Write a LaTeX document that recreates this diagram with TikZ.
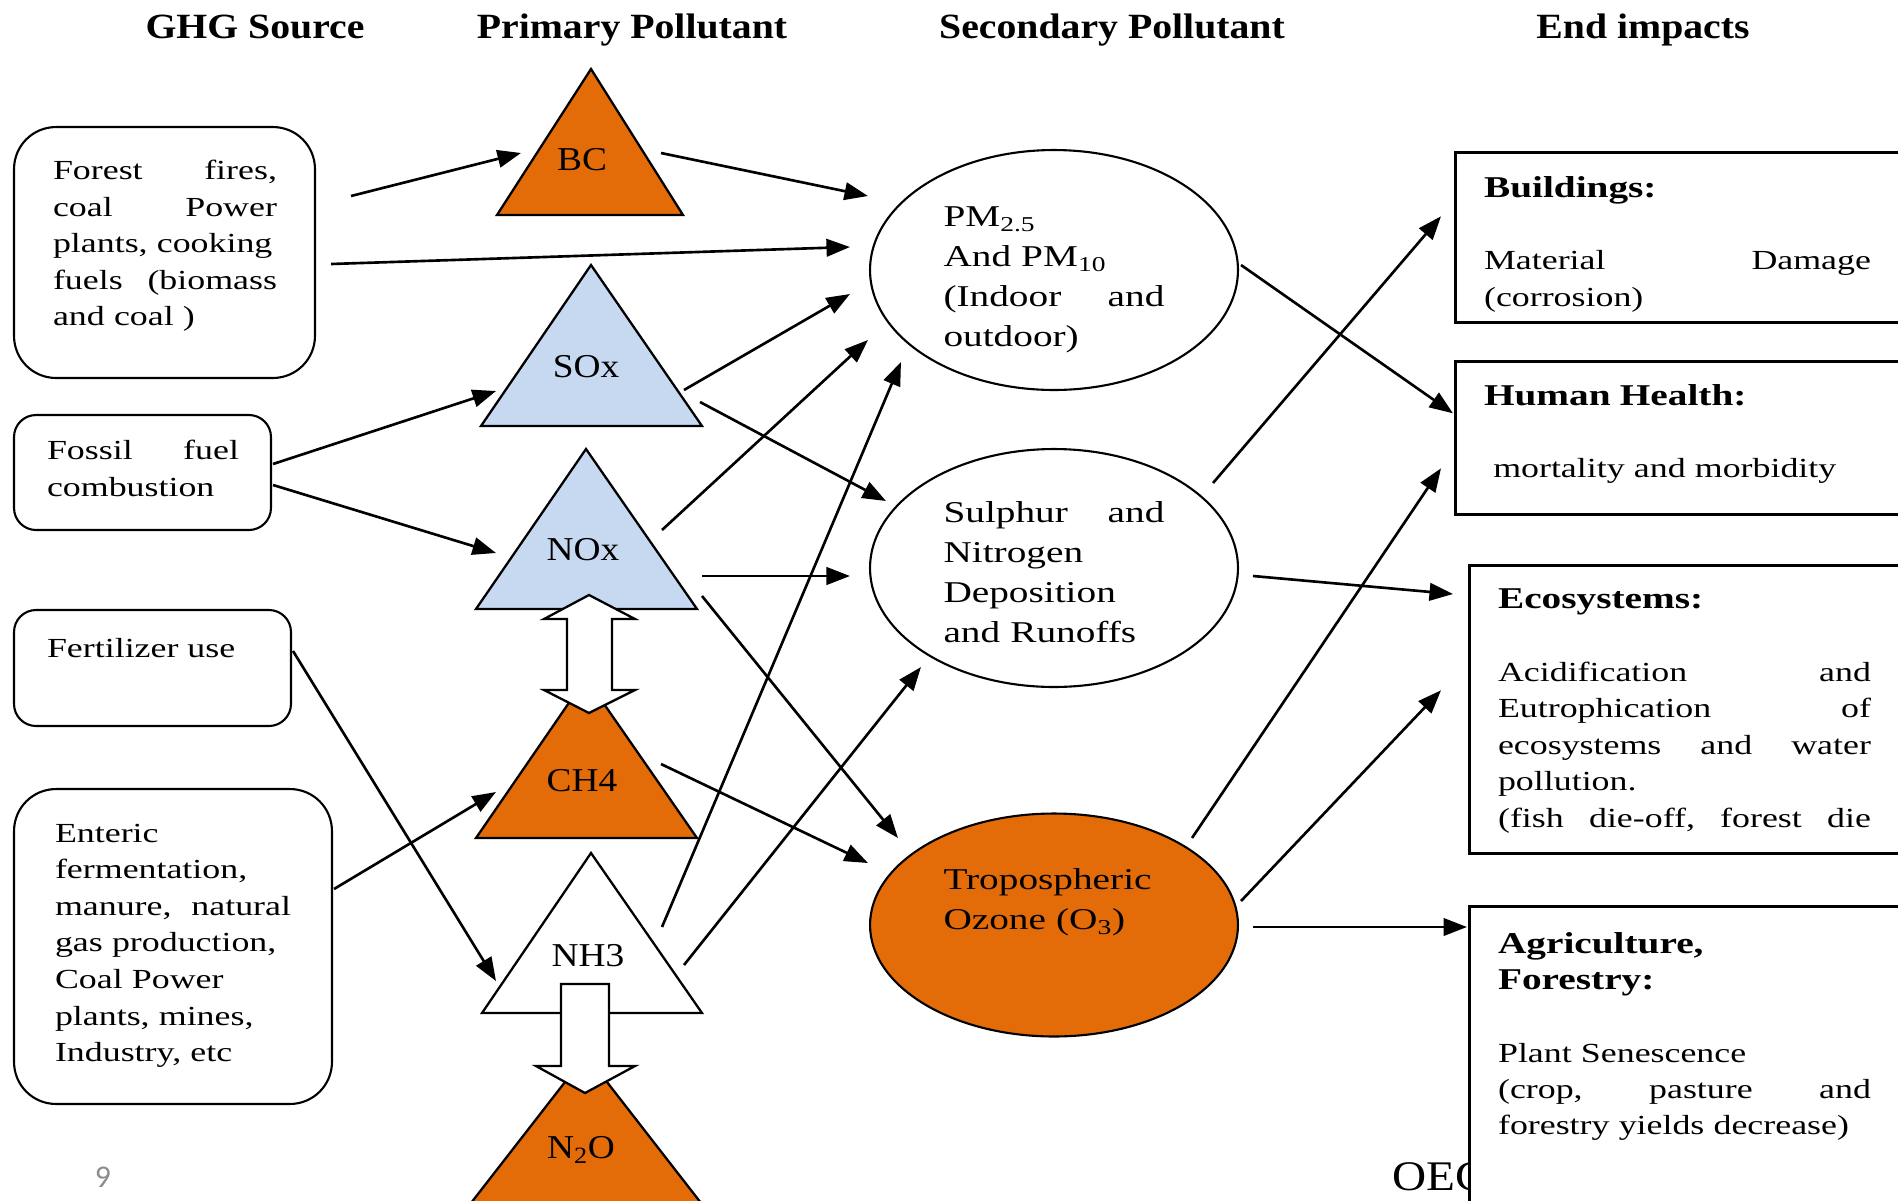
\documentclass[tikz,border=0pt]{standalone}
\usepackage{fontspec}
\setmainfont{Liberation Serif}[FakeStretch=1.3]
\newfontfamily\hdfont{Liberation Serif}[FakeStretch=1.12]
\newfontfamily\numfont{Carlito}
\usepackage{xcolor}
\usetikzlibrary{arrows.meta, positioning, shapes.geometric}

\definecolor{triorange}{HTML}{E36C09}
\definecolor{triblue}{HTML}{C6D9F1}
\definecolor{numgray}{HTML}{8C8C8C}

\newcommand{\imphead}[1]{{\fontsize{17.2}{20.7}\selectfont\bfseries #1}}

\begin{document}
\begin{tikzpicture}[x=0.02cm,y=-0.02cm,line width=1.2pt,>={Triangle[length=0.47cm,width=0.35cm]}]
  \tikzstyle{head}=[anchor=base,inner sep=0,font={\hdfont\fontsize{20.2}{24}\selectfont\bfseries}]
  \tikzstyle{src}=[draw,rounded corners=0.84cm,inner sep=0]
  \tikzstyle{srctxt}=[anchor=north west,inner sep=0,align=left,font={\fontsize{15.7}{20.8}\selectfont}]
  \tikzstyle{tri}=[draw,line width=1.3pt,line join=miter]
  \tikzstyle{trilab}=[inner sep=0,font={\hdfont\fontsize{19}{22}\selectfont}]
  \tikzstyle{blk}=[draw,fill=white,line width=1.3pt,line join=miter]
  \tikzstyle{sec}=[draw,ellipse,minimum width=7.36cm,inner sep=0,text width=4.42cm,align=left,font={\fontsize{17.2}{22.7}\selectfont}]
  \tikzstyle{imp}=[draw,line width=1.5pt,fill=white,inner sep=0,anchor=north west]
  \tikzstyle{imptxt}=[anchor=north west,inner sep=0,align=left,font={\fontsize{15.7}{20.7}\selectfont}]
  \tikzstyle{link}=[->,line width=1.5pt]

  \useasboundingbox (0,0) rectangle (1898,1201);

  \node[head] (h_src) at (255,38)  {GHG Source};
  \node[head] (h_pri) at (632,38)  {Primary Pollutant};
  \node[head] (h_sec) at (1112,38) {Secondary Pollutant};
  \node[head] (h_end) at (1643,38) {End impacts};

  \node[src,minimum width=6.02cm,minimum height=5.02cm]                        (forest)  at (164.5,252.5) {};
  \node[src,rounded corners=0.44cm,minimum width=5.14cm,minimum height=2.3cm]  (fossil)  at (142.5,472.5) {};
  \node[src,rounded corners=0.44cm,minimum width=5.54cm,minimum height=2.32cm] (fert)    at (152.5,668)   {};
  \node[src,minimum width=6.36cm,minimum height=6.3cm]                         (enteric) at (173,946.5)   {};

  \node[srctxt,text width=4.48cm] (forest_t)  at (52,159) {Forest\hfill fires,\\ coal\hfill Power\\ plants, cooking\\ fuels\hfill (biomass\\ and coal )};
  \node[srctxt,text width=3.84cm] (fossil_t)  at (46,439) {Fossil\hfill fuel\\ combustion};
  \node[srctxt]                   (fert_t)    at (46,637) {Fertilizer use};
  \node[srctxt,text width=4.72cm] (enteric_t) at (54,823) {Enteric\\ fermentation,\\ manure,\hfill natural\\ gas production,\\ Coal Power\\ plants, mines,\\ Industry, etc};

  \draw[tri,fill=triorange] (591,69)   -- (683,215)  -- (497,215)  -- cycle;
  \draw[tri,fill=triblue]   (591,265)  -- (702,426)  -- (481,426)  -- cycle;
  \draw[tri,fill=triblue]   (586,449)  -- (697,609)  -- (476,609)  -- cycle;
  \draw[tri,fill=triorange] (586,678)  -- (697,838)  -- (476,838)  -- cycle;
  \draw[tri,fill=white]     (591,853)  -- (702,1013) -- (482,1013) -- cycle;
  \draw[tri,fill=triorange] (586,1055) -- (708,1212) -- (464,1212) -- cycle;

  \draw[blk] (589,595) -- (635,619) -- (612,619) -- (612,690) -- (635,690) -- (589,713)
    -- (544,690) -- (567,690) -- (567,619) -- (544,619) -- cycle;
  \draw[blk] (561,984) -- (609,984) -- (609,1066) -- (635,1066) -- (585,1093) -- (536,1066)
    -- (561,1066) -- cycle;

  \node[trilab] (bc)  at (582,160)  {BC};
  \node[trilab] (sox) at (586,367)  {SOx};
  \node[trilab] (nox) at (583,550)  {NOx};
  \node[trilab] (ch4) at (582,781)  {CH4};
  \node[trilab] (nh3) at (588,956)  {NH3};
  \node[trilab] (n2o) at (581,1150) {N\textsubscript{2}O};

  \node[sec,minimum height=4.8cm]  (pm)  at (1054,270) {\mbox{}\\ PM\textsubscript{2.5}\\ And PM\textsubscript{10}\\ (Indoor\hfill and\\ outdoor)};
  \node[sec,minimum height=4.76cm] (sul) at (1054,568) {\mbox{}\\[-6.1pt] Sulphur\hfill and\\ Nitrogen\\ Deposition\\ and Runoffs};
  \node[sec,fill=triorange,minimum height=4.46cm] (tro) at (1054,925) {Tropospheric\\ Ozone (O\textsubscript{3})\\[6.8pt] \mbox{}};

  \node[anchor=west,inner sep=0,font={\hdfont\fontsize{24}{24}\selectfont}] (oec) at (1391,1177) {OEC};
  \node[inner sep=0,text=numgray,font={\numfont\fontsize{18}{18}\selectfont}] (pg) at (103,1177) {9};

  \node[imp,minimum width=8.96cm,minimum height=3.4cm]  (bld) at (1454,151) {};
  \node[imp,minimum width=8.96cm,minimum height=3.06cm] (hh)  at (1454,360) {};
  \node[imp,minimum width=8.68cm,minimum height=5.76cm] (eco) at (1468,564) {};
  \node[imp,minimum width=8.68cm,minimum height=6.5cm]  (agr) at (1468,905) {};

  \node[imptxt,text width=7.74cm] (bld_t) at (1483,175) {\imphead{Buildings:}\\[20.7pt] Material\hfill Damage\\ (corrosion)};
  \node[imptxt,text width=7.74cm] (hh_t)  at (1483,383) {\imphead{Human Health:}\\[20.7pt] ~mortality and morbidity};
  \node[imptxt,text width=7.46cm] (eco_t) at (1497,588) {\imphead{Ecosystems:}\\[20.7pt] Acidification\hfill and\\ Eutrophication\hfill of\\ ecosystems\hfill and\hfill water\\ pollution.\\ (fish\hfill die-off,\hfill forest\hfill die};
  \node[imptxt,text width=7.46cm] (agr_t) at (1497,931) {\imphead{Agriculture,}\\ \imphead{Forestry:}\\[20.7pt] Plant Senescence\\ (crop,\hfill pasture\hfill and\\ forestry yields decrease)};

  \draw[link] ([shift={(35,-56.5)}]forest.east) -- ([shift={(-61,-7)}]bc.center);
  \draw[link] ([shift={(79,-7)}]bc.center)      -- ([shift={(-1,-74)}]pm.west);
  \draw[link] ([shift={(15,11.5)}]forest.east)  -- ([shift={(-19,-23)}]pm.west);
  \draw[link] ([shift={(98,23)}]sox.center)     -- ([shift={(-19,24)}]pm.west);
  \draw[link] ([shift={(1,-8.5)}]fossil.east)   -- ([shift={(-90,24)}]sox.center);
  \draw[link] ([shift={(1,12.5)}]fossil.east)   -- ([shift={(-87,3)}]nox.center);
  \draw[link] ([shift={(114,35)}]sox.center)    -- ([shift={(17,-67)}]sul.west);
  \draw[link] ([shift={(79,-20)}]nox.center)    -- ([shift={(-1,70)}]pm.west);
  \draw[link] ([shift={(119,26)}]nox.center)    -- ([shift={(-19,8)}]sul.west);
  \draw[link] ([shift={(119,46)}]nox.center)    -- ([shift={(29,-87)}]tro.west);
  \draw[link] ([shift={(79,-17)}]ch4.center)    -- ([shift={(-1,-62)}]tro.west);
  \draw[link] ([shift={(1,-57.5)}]enteric.east) -- ([shift={(-86,11)}]ch4.center);
  \draw[link] ([shift={(1,-17)}]fert.east)      -- ([shift={(-92,25)}]nh3.center);
  \draw[link] ([shift={(74,-29)}]nh3.center)    -- ([shift={(32,92)}]pm.west);
  \draw[link] ([shift={(96,9)}]nh3.center)      -- ([shift={(52,99)}]sul.west);
  \draw[link] ([shift={(2,-5)}]pm.east)         -- ([shift={(-1,-24.5)}]hh.west);
  \draw[link] ([shift={(-26,-85)}]sul.east)     -- ([shift={(-13,-21)}]bld.west);
  \draw[link] ([shift={(14,8)}]sul.east)        -- ([shift={(-15,30)}]eco.north west);
  \draw[link] ([shift={(-47,-87)}]tro.east)     -- ([shift={(-13,30.5)}]hh.west);
  \draw[link] ([shift={(2,-24)}]tro.east)       -- ([shift={(-27,-19)}]eco.west);
  \draw[link] ([shift={(14,2)}]tro.east)        -- ([shift={(-1,22)}]agr.north west);
\end{tikzpicture}
\end{document}
